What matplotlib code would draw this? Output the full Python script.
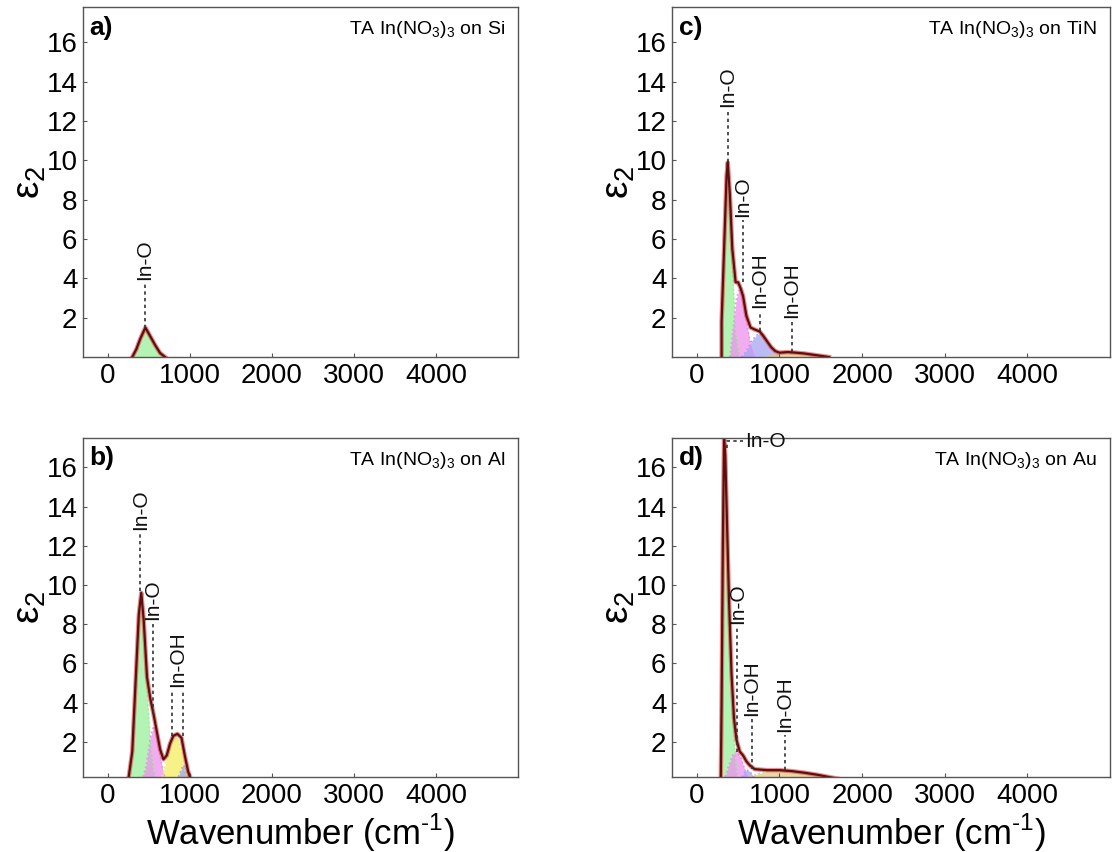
import matplotlib
matplotlib.use("Agg")
import matplotlib.pyplot as plt

plt.rcParams['font.family'] = ['Liberation Sans', 'DejaVu Sans']
plt.rcParams['mathtext.fontset'] = 'custom'
plt.rcParams['mathtext.rm'] = 'Liberation Sans'

# ---- a) TA In(NO3)3 on Si ----
a_x_ino = [300, 350, 400, 460, 520, 580, 640, 700]
a_y_ino = [0, 0.4, 0.95, 1.5, 1.05, 0.6, 0.2, 0]
a_x_tot = [300, 350, 400, 460, 520, 580, 640, 700]
a_y_tot = [0, 0.4, 0.95, 1.5, 1.05, 0.6, 0.2, 0]

# ---- b) TA In(NO3)3 on Al ----
b_x_ino1 = [250, 300, 340, 380, 410, 440, 480, 520, 560, 600]
b_y_ino1 = [0, 1.5, 5.0, 8.5, 9.6, 8.0, 4.5, 2.0, 0.6, 0]
b_x_ino2 = [420, 470, 520, 560, 600, 640, 680, 720]
b_y_ino2 = [0, 0.8, 2.2, 2.8, 2.3, 1.2, 0.4, 0]
b_x_inoh1 = [650, 700, 750, 800, 850, 900, 950, 1000]
b_y_inoh1 = [0, 0.8, 1.7, 2.3, 2.2, 1.4, 0.5, 0]
b_x_inoh2 = [840, 880, 920, 960, 1000, 1030]
b_y_inoh2 = [0, 0.4, 0.8, 0.6, 0.2, 0]
b_x_tot = [250, 300, 340, 380, 410, 440, 480, 520, 560, 600, 640, 680,
           720, 760, 800, 850, 900, 940, 980, 1020]
b_y_tot = [0, 1.5, 5.0, 8.5, 9.6, 8.2, 5.3, 4.2, 3.4, 2.5, 1.6, 1.1,
           1.3, 1.9, 2.3, 2.4, 2.2, 1.3, 0.5, 0]

# ---- c) TA In(NO3)3 on TiN ----
c_x_ino1 = [300, 300, 320, 350, 375, 400, 430, 470, 520]
c_y_ino1 = [0, 1.8, 4.0, 8.0, 9.7, 8.0, 4.5, 1.2, 0]
c_x_ino2 = [400, 440, 480, 520, 560, 600, 650, 700]
c_y_ino2 = [0, 1.5, 3.0, 3.5, 3.0, 1.8, 0.6, 0]
c_x_inoh1 = [540, 600, 660, 720, 770, 820, 880, 950, 1000]
c_y_inoh1 = [0, 0.3, 0.8, 1.1, 1.2, 1.0, 0.6, 0.2, 0]
c_x_inoh2 = [800, 900, 1000, 1100, 1200, 1300, 1400, 1500, 1600]
c_y_inoh2 = [0, 0.1, 0.2, 0.25, 0.22, 0.18, 0.12, 0.06, 0]
c_x_tot = [300, 300, 330, 360, 375, 400, 430, 470, 500, 530, 560, 600, 650,
           700, 760, 800, 850, 900, 950, 1000, 1100, 1200, 1300, 1400, 1500, 1600]
c_y_tot = [0, 1.8, 5.5, 9.2, 9.9, 8.3, 5.5, 3.8, 3.8, 3.5, 3.1, 2.1, 1.5,
           1.4, 1.3, 1.1, 0.8, 0.5, 0.3, 0.22, 0.25, 0.22, 0.18, 0.12, 0.06, 0]

# ---- d) TA In(NO3)3 on Au ----
d_x_ino1 = [290, 300, 315, 330, 345, 365, 390, 420, 450, 480, 510]
d_y_ino1 = [0, 4.0, 12.0, 17.5, 16.5, 13.0, 8.5, 4.5, 2.0, 0.6, 0]
d_x_ino2 = [330, 380, 430, 480, 530, 580, 630]
d_y_ino2 = [0, 0.7, 1.3, 1.5, 1.2, 0.6, 0]
d_x_inoh1 = [520, 560, 600, 640, 680, 720]
d_y_inoh1 = [0, 0.3, 0.55, 0.5, 0.25, 0]
d_x_inoh2 = [550, 700, 850, 1000, 1150, 1300, 1450, 1600, 1750, 1900]
d_y_inoh2 = [0, 0.3, 0.5, 0.55, 0.5, 0.42, 0.32, 0.2, 0.08, 0]
d_x_tot = [290, 300, 315, 330, 345, 365, 390, 420, 450, 480, 520, 560, 600,
           640, 700, 850, 1000, 1150, 1300, 1450, 1600, 1750, 1900]
d_y_tot = [0, 4.0, 12.0, 17.5, 16.6, 13.3, 9.2, 5.5, 3.2, 2.1, 1.5, 1.3, 1.0,
           0.8, 0.6, 0.55, 0.55, 0.5, 0.42, 0.32, 0.2, 0.08, 0]

# peak labels: text, text x, text bottom y, dashed line x's, dashed line bottom y
a_labels = [("In-O", 455, 3.9, [455], 1.5)]
b_labels = [("In-O", 400, 12.8, [400], 9.7),
            ("In-O", 550, 8.2, [550], 3.4),
            ("In-OH", 850, 4.8, [790, 915], 2.3)]
c_labels = [("In-O", 375, 12.7, [375], 9.9),
            ("In-O", 560, 7.1, [560], 3.8),
            ("In-OH", 764, 2.5, [764], 1.3),
            ("In-OH", 1150, 2.0, [1150], 0.25)]
d_labels = [("In-O", 490, 8.0, [490], 1.5),
            ("In-OH", 667, 3.3, [667], 0.6),
            ("In-OH", 1067, 2.5, [1067], 0.55)]

titles = ["TA In(NO$_3$)$_3$ on Si", "TA In(NO$_3$)$_3$ on Al",
          "TA In(NO$_3$)$_3$ on TiN", "TA In(NO$_3$)$_3$ on Au"]
letters = ["a)", "b)", "c)", "d)"]

green, pink, yellow, blue, tan = "#9af09a", "#ee90ee", "#f4ee60", "#a4a4f2", "#e2cc88"

W, H = 1113, 852
fig = plt.figure(figsize=(W / 100, H / 100), dpi=100)

def box(l, r, t, b):
    return [l / W, 1 - b / H, (r - l) / W, (b - t) / H]

ax_a = fig.add_axes(box(83, 518, 7, 357))
ax_c = fig.add_axes(box(672, 1110, 7, 357))
ax_b = fig.add_axes(box(83, 518, 438, 777))
ax_d = fig.add_axes(box(672, 1110, 438, 777))

panels = [
    (ax_a, [(a_x_ino, a_y_ino, green)], a_x_tot, a_y_tot, a_labels, (0, 17.8)),
    (ax_b, [(b_x_ino1, b_y_ino1, green), (b_x_ino2, b_y_ino2, pink),
            (b_x_inoh1, b_y_inoh1, yellow), (b_x_inoh2, b_y_inoh2, blue)],
     b_x_tot, b_y_tot, b_labels, (0.2, 17.5)),
    (ax_c, [(c_x_ino1, c_y_ino1, green), (c_x_ino2, c_y_ino2, pink),
            (c_x_inoh1, c_y_inoh1, blue), (c_x_inoh2, c_y_inoh2, tan)],
     c_x_tot, c_y_tot, c_labels, (0, 17.8)),
    (ax_d, [(d_x_ino1, d_y_ino1, green), (d_x_ino2, d_y_ino2, pink),
            (d_x_inoh1, d_y_inoh1, blue), (d_x_inoh2, d_y_inoh2, tan)],
     d_x_tot, d_y_tot, d_labels, (0.2, 17.5)),
]

for i, (ax, comps, tx, ty, labels, ylim) in enumerate(panels):
    for x, y, col in comps:
        ax.fill_between(x, 0, y, color=col, alpha=0.75, lw=0)
        ax.plot(x, y, color=col, lw=1.2, ls=":")
    ax.plot(tx, ty, color="#e04040", lw=3.2, alpha=0.6)
    ax.plot(tx, ty, color="#5a1010", lw=1.6)
    for txt, lx, ly, lines, lb in labels:
        for xx in lines:
            ax.plot([xx, xx], [lb, ly - 0.15], color="#333333", lw=1.2,
                    ls=(0, (2, 2)))
        ax.text(lx, ly, txt, rotation=90, ha="center", va="bottom",
                fontsize=15, color="#111111")
    ax.set_xlim(-300, 5000)
    ax.set_ylim(*ylim)
    ax.set_xticks([0, 1000, 2000, 3000, 4000])
    ax.set_yticks([2, 4, 6, 8, 10, 12, 14, 16])
    ax.tick_params(labelsize=20, length=3, direction="in", color="#555555", pad=4)
    for s in ax.spines.values():
        s.set_color("#555555")
        s.set_linewidth(1.0)
    ax.set_ylabel("ε$_2$", fontsize=28, labelpad=2)
    ax.yaxis.set_label_coords(-0.08, 0.5)

ax_a.text(0.97, 0.965, titles[0], transform=ax_a.transAxes, ha="right", va="top", fontsize=14)
ax_b.text(0.97, 0.965, titles[1], transform=ax_b.transAxes, ha="right", va="top", fontsize=14)
ax_c.text(0.97, 0.965, titles[2], transform=ax_c.transAxes, ha="right", va="top", fontsize=14)
ax_d.text(0.97, 0.965, titles[3], transform=ax_d.transAxes, ha="right", va="top", fontsize=14)
for ax, let in zip([ax_a, ax_b, ax_c, ax_d], letters):
    ax.text(0.015, 0.975, let, transform=ax.transAxes, ha="left", va="top",
            fontsize=19, fontweight="bold")

# d) top In-O label placed sideways next to the spike
ax_d.plot([364, 364, 560], [17.0, 17.35, 17.35], color="#333333", lw=1.2, ls=(0, (2, 2)))
ax_d.text(590, 17.3, "In-O", ha="left", va="center", fontsize=15, color="#111111")

for ax in (ax_b, ax_d):
    ax.set_xlabel("Wavenumber (cm$^{\\text{-}1}$)", fontsize=25, labelpad=2)

fig.savefig("out.png", dpi=100)
